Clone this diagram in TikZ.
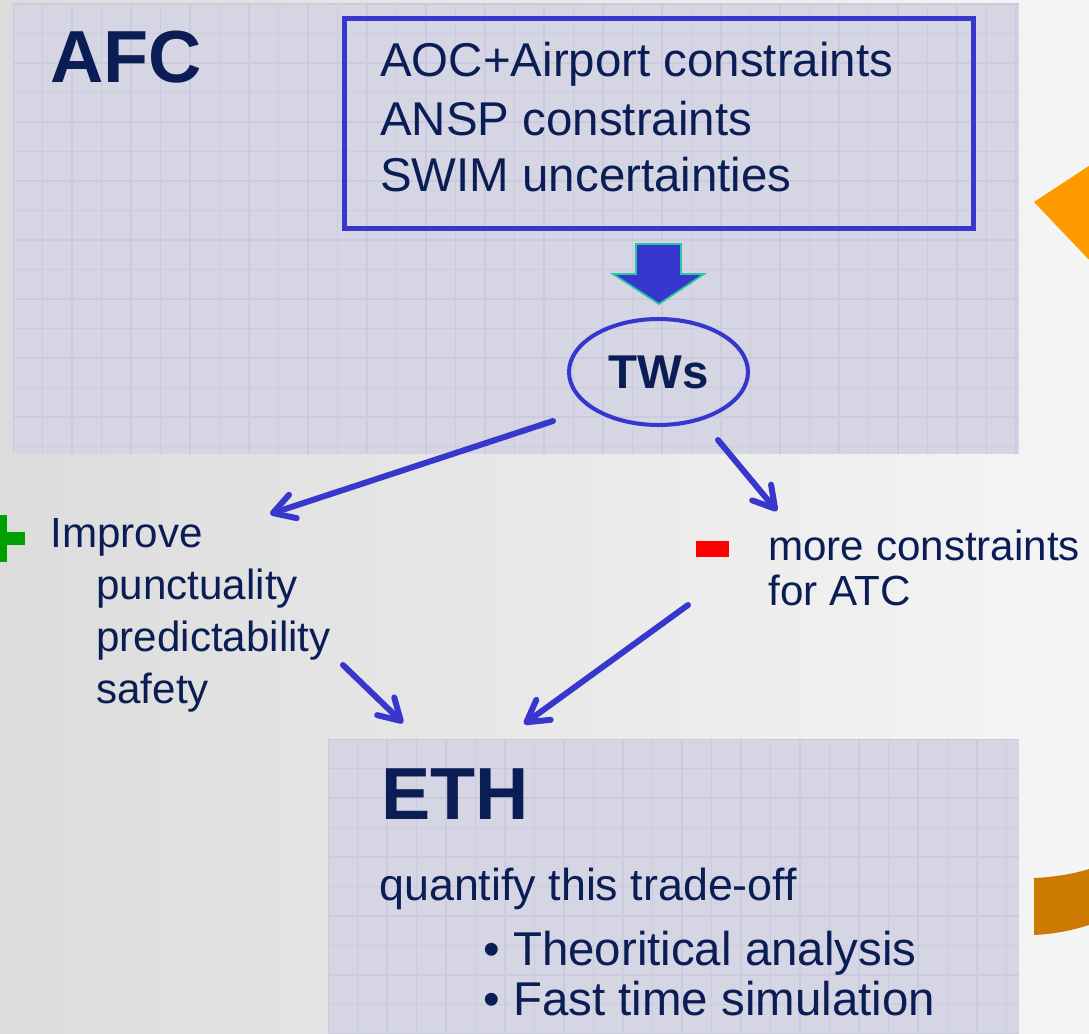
\documentclass[tikz,border=0pt]{standalone}
\usepackage{fontspec}
\setmainfont{Liberation Sans}
\usetikzlibrary{arrows.meta,shapes.geometric}

\definecolor{navy}{RGB}{10,30,85}
\definecolor{flowblue}{RGB}{55,55,205}
\definecolor{panelfill}{RGB}{213,213,227}
\definecolor{panelgrid}{RGB}{203,203,223}
\definecolor{bgleft}{RGB}{220,220,220}
\definecolor{bgright}{RGB}{245,245,245}
\definecolor{mint}{RGB}{40,200,160}
\definecolor{plusgreen}{RGB}{0,160,0}
\definecolor{amber}{RGB}{255,153,0}
\definecolor{darkamber}{RGB}{204,122,0}

\tikzset{
  title/.style={font=\fontsize{42}{42}\selectfont\bfseries, text=navy, inner sep=0pt, anchor=base west},
  body/.style={font=\fontsize{27}{33}\selectfont, text=navy, inner sep=0pt, anchor=base west},
  note/.style={font=\fontsize{24}{29}\selectfont, text=navy, inner sep=0pt, anchor=base west},
  gridline/.style={panelgrid, line width=0.6pt},
  flow/.style={flowblue, line width=3.4pt, line cap=round,
    -{Straight Barb[length=12pt,width=14pt,round]}},
}

\begin{document}
\begin{tikzpicture}[x=0.02cm,y=-0.02cm]
\useasboundingbox (0,0) rectangle (1089,1034);
\clip (0,0) rectangle (1089,1034);
\shade[left color=bgleft, right color=bgright] (0,0) rectangle (1089,1034);

% panels
\fill[panelfill] (13,4) rectangle (1019,454);
\fill[panelfill] (328,739) rectangle (1019,1040);
\begin{scope}
\clip (13,4) rectangle (1019,454);
\foreach \gx in {13,42.5,...,1019} \draw[gridline] (\gx,4) -- (\gx,454);
\foreach \gy in {4,33.5,...,454} \draw[gridline] (13,\gy) -- (1019,\gy);
\end{scope}
\begin{scope}
\clip (328,739) rectangle (1019,1040);
\foreach \gx in {328,357.5,...,1019} \draw[gridline] (\gx,739) -- (\gx,1040);
\foreach \gy in {739,768.5,...,1040} \draw[gridline] (328,\gy) -- (1019,\gy);
\end{scope}

% orange shapes on the right
\fill[amber] (1034,202) -- (1095,162) -- (1095,266) -- cycle;
\fill[darkamber] (1034,878) .. controls (1055,877) and (1075,874) .. (1095,867)
  -- (1095,923) .. controls (1075,930) and (1055,934) .. (1034,935) -- cycle;

% AFC part
\node[title] (afc) at (50,83) {AFC};
\node[draw=flowblue, line width=2.5pt, minimum width=12.58cm, minimum height=4.2cm] (cons) at (659,123.5) {};
\node[body] (aoc) at (380,77) {AOC+Airport constraints};
\node[body] (ansp) at (380,135) {ANSP constraints};
\node[body] (swim) at (380,192) {SWIM uncertainties};
\filldraw[fill=flowblue, draw=mint, line width=1pt]
  (636,244) -- (681,244) -- (681,274) -- (704,274) -- (659,304) -- (613,274) -- (636,274) -- cycle;
\node[ellipse, draw=flowblue, line width=2.3pt, minimum width=3.58cm, minimum height=2.12cm,
  font=\fontsize{27}{27}\selectfont\bfseries, text=navy] (tws) at (658.5,372) {TWs};

% pros and cons
\fill[plusgreen] (-3,515) rectangle (7,562);
\fill[plusgreen] (-25,532) rectangle (25,545);
\node[note] (improve) at (50,547) {Improve};
\node[note] (punct) at (96,599) {punctuality};
\node[note] (pred) at (96,651) {predictability};
\node[note] (safety) at (96,703) {safety};
\fill[red] (696,541) rectangle (729,557);
\node[note] (more) at (768,560) {more constraints};
\node[note] (atc) at (768,605) {for ATC};

% ETH part
\node[title] (eth) at (381,819) {ETH};
\node[body, font=\fontsize{25.5}{30}\selectfont] (quant) at (379,900) {quantify this trade-off};
\node[body] (theo) at (483,965) {• Theoritical analysis};
\node[body] (fast) at (483,1015) {• Fast time simulation};

\coordinate (tws-l) at (553,421);
\coordinate (imp-r) at (270,514);
\coordinate (tws-r) at (718,440);
\coordinate (more-l) at (777,511);
\coordinate (safe-r) at (343,665);
\coordinate (eth-l) at (403,723);
\coordinate (atc-l) at (688,605);
\coordinate (eth-r) at (524,724);
\draw[flow] (tws-l) -- (imp-r);
\draw[flow] (tws-r) -- (more-l);
\draw[flow] (safe-r) -- (eth-l);
\draw[flow] (atc-l) -- (eth-r);
\end{tikzpicture}
\end{document}
